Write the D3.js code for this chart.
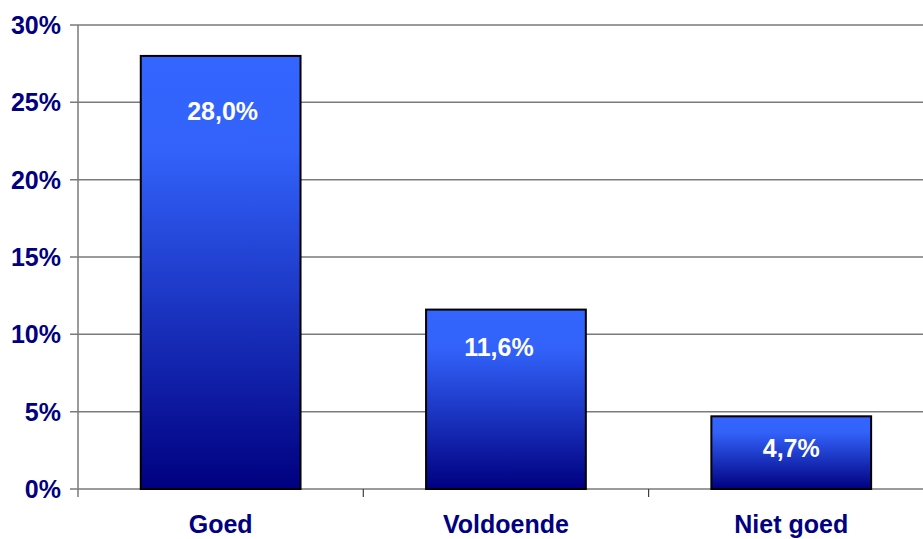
<!DOCTYPE html>
<html>
<head>
<meta charset="utf-8">
<script src="https://cdn.jsdelivr.net/npm/d3@7/dist/d3.min.js"></script>
<style>
  html, body { margin: 0; padding: 0; background: #fff; overflow: hidden; }
  svg { display: block; }
</style>
</head>
<body>
<svg id="chart" width="923" height="539"></svg>
<script>
const categories = ["Goed", "Voldoende", "Niet goed"];
const values = [28.0, 11.6, 4.7];
const valueLabels = ["28,0%", "11,6%", "4,7%"];
const yTicks = [0, 5, 10, 15, 20, 25, 30];
const yTickLabels = ["0%", "5%", "10%", "15%", "20%", "25%", "30%"];

const svg = d3.select("#chart");
const x0 = 78, yTop = 25, yBot = 489;
const step = 285.3;

const x = d3.scaleBand()
  .domain(categories)
  .range([x0, x0 + step * categories.length])
  .paddingInner(0.44)
  .paddingOuter(0.22);

const y = d3.scaleLinear().domain([0, 30]).range([yBot, yTop]);

// gradient
const defs = svg.append("defs");
const grad = defs.append("linearGradient")
  .attr("id", "barGrad").attr("x1", 0).attr("y1", 0).attr("x2", 0).attr("y2", 1);
grad.append("stop").attr("offset", "0%").attr("stop-color", "#3366ff");
grad.append("stop").attr("offset", "22%").attr("stop-color", "#3262fa");
grad.append("stop").attr("offset", "100%").attr("stop-color", "#000080");

// gridlines
svg.append("g").selectAll("line").data(yTicks).join("line")
  .attr("x1", x0 - 8).attr("x2", 923)
  .attr("y1", d => y(d)).attr("y2", d => y(d))
  .attr("stroke", "#7a7a7a").attr("stroke-width", 1.5);

// y axis line
svg.append("line")
  .attr("x1", x0).attr("x2", x0).attr("y1", yTop).attr("y2", yBot + 8)
  .attr("stroke", "#7a7a7a").attr("stroke-width", 1.5);

// category ticks (band boundaries)
const boundaries = categories.slice(1).map((c, i) => x0 + step * (i + 1));
svg.append("g").selectAll("line").data(boundaries).join("line")
  .attr("x1", d => d).attr("x2", d => d)
  .attr("y1", yBot).attr("y2", yBot + 8)
  .attr("stroke", "#404040").attr("stroke-width", 1.2);

// y tick labels
svg.append("g").selectAll("text").data(yTicks).join("text")
  .attr("x", 61).attr("y", d => y(d))
  .attr("dy", "0.36em")
  .attr("text-anchor", "end")
  .attr("font-family", "Liberation Sans, Arial, sans-serif")
  .attr("font-weight", "bold").attr("font-size", 25)
  .attr("fill", "#000080")
  .text((d, i) => yTickLabels[i]);

// bars
svg.append("g").selectAll("rect").data(values).join("rect")
  .attr("x", (d, i) => x(categories[i]))
  .attr("y", d => y(d))
  .attr("width", x.bandwidth())
  .attr("height", d => yBot - y(d))
  .attr("fill", "url(#barGrad)")
  .attr("stroke", "#000").attr("stroke-width", 2);

// value labels
const labelOffsets = [64, 46, 41];
const labelDx = [2, -7, 0];
svg.append("g").selectAll("text").data(values).join("text")
  .attr("x", (d, i) => x(categories[i]) + x.bandwidth() / 2 + labelDx[i])
  .attr("y", (d, i) => y(d) + labelOffsets[i])
  .attr("text-anchor", "middle")
  .attr("font-family", "Liberation Sans, Arial, sans-serif")
  .attr("font-weight", "bold").attr("font-size", 25)
  .attr("fill", "#ffffff")
  .text((d, i) => valueLabels[i]);

// category labels
svg.append("g").selectAll("text").data(categories).join("text")
  .attr("x", d => x(d) + x.bandwidth() / 2)
  .attr("y", 533)
  .attr("text-anchor", "middle")
  .attr("font-family", "Liberation Sans, Arial, sans-serif")
  .attr("font-weight", "bold").attr("font-size", 25)
  .attr("fill", "#000080")
  .text(d => d);
</script>
</body>
</html>
